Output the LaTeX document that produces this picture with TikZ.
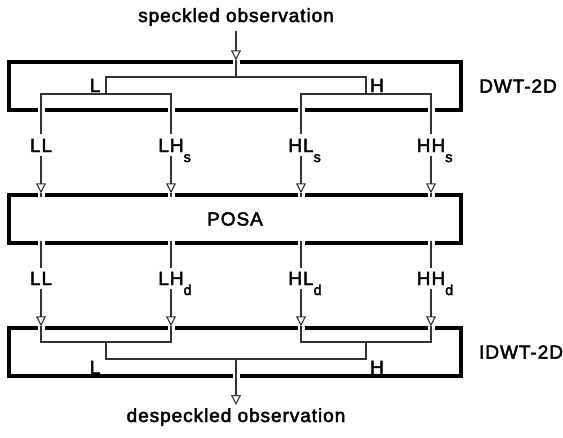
\documentclass[tikz,border=0pt]{standalone}
\usepackage{fontspec}
\setmainfont{Liberation Sans}[LetterSpace=5,FakeBold=2.5]
\usetikzlibrary{arrows.meta}
\newcommand{\lowsub}[1]{\raisebox{-10pt}{\fontsize{14.5}{16}\selectfont #1}}

\begin{document}
\begin{tikzpicture}[x=1pt,y=-1pt,font=\fontsize{19}{22}\selectfont,
		box/.style={draw,line width=3.5pt,minimum width=452pt,minimum height=48pt,inner sep=0pt},
		gap/.style={fill=white,minimum width=7pt,minimum height=10pt,inner sep=0pt},
		lbl/.style={inner sep=0pt,anchor=base},
		wire/.style={draw=black!80,line width=1.1pt},
		arr/.style={wire,-{Triangle[open,length=10pt,width=10pt]}}]
		\useasboundingbox (0,0) rectangle (563,437);
		\node[box] (dwt) at (235,86) {};
		\node[box] (posa) at (235,219) {POSA};
		\node[box] (idwt) at (235,352) {};
		\node[anchor=west,inner sep=0pt] (dwtname) at (479,86) {DWT-2D};
		\node[anchor=west,inner sep=0pt] (idwtname) at (479,352) {IDWT-2D};
		\node[lbl] (inobs) at (236,22) {speckled observation};
		\node[lbl] (outobs) at (236,422) {despeckled observation};
		\node[lbl] (ll1) at (41,152) {LL};
		\node[lbl] (lh1) at (171,152) {LH\rlap{\lowsub{s}}};
		\node[lbl] (hl1) at (301,152) {HL\rlap{\lowsub{s}}};
		\node[lbl] (hh1) at (431,152) {HH\rlap{\lowsub{s}}};
		\node[lbl] (ll2) at (41,285) {LL};
		\node[lbl] (lh2) at (171,285) {LH\rlap{\lowsub{d}}};
		\node[lbl] (hl2) at (301,285) {HL\rlap{\lowsub{d}}};
		\node[lbl] (hh2) at (431,285) {HH\rlap{\lowsub{d}}};
		\node[lbl] (lo1) at (95,92) {L};
		\node[lbl] (hi1) at (377,92) {H};
		\node[lbl] (lo2) at (95,374) {L};
		\node[lbl] (hi2) at (377,374) {H};
		\coordinate (dtop) at (236,77);
		\coordinate (dl) at (106,94);
		\coordinate (dh) at (366,94);
		\coordinate (il) at (106,342);
		\coordinate (ih) at (366,342);
		\coordinate (ibot) at (236,359);
		\node[gap] (gin) at (inobs |- dwt.north) {};
		\node[gap] (gout) at (outobs |- idwt.south) {};
		\foreach \a/\b in {ll1/ll2,lh1/lh2,hl1/hl2,hh1/hh2}{
			\node[gap] (g1\a) at (\a |- dwt.south) {};
			\node[gap] (g2\a) at (\a |- posa.north) {};
			\node[gap] (g3\a) at (\a |- posa.south) {};
			\node[gap] (g4\a) at (\a |- idwt.north) {};
		}
		\draw[arr] ([yshift=-5pt]inobs.south) -- (inobs |- dwt.north);
		\draw[wire] (inobs |- dwt.north) -- (dtop);
		\draw[wire] (dl) |- (dtop) -| (dh);
		\draw[wire] ([yshift=5pt]ll1.north) |- (dl) -| ([yshift=5pt]lh1.north);
		\draw[wire] ([yshift=5pt]hl1.north) |- (dh) -| ([yshift=5pt]hh1.north);
		\foreach \a/\b in {ll1/ll2,lh1/lh2,hl1/hl2,hh1/hh2}{
			\draw[arr] ([yshift=-4pt]\a.base) -- (\a |- posa.north);
			\draw[wire] (\a |- posa.north) -- ([yshift=-4pt]\a |- posa.north);
			\draw[wire] ([yshift=4pt]\b |- posa.south) -- ([yshift=4pt]\b.north);
			\draw[arr] ([yshift=-4pt]\b.base) -- (\b |- idwt.north);
		}
		\draw[wire] (ll2 |- idwt.north) |- (il) -| (lh2 |- idwt.north);
		\draw[wire] (hl2 |- idwt.north) |- (ih) -| (hh2 |- idwt.north);
		\draw[wire] (il) |- (ibot) -| (ih);
		\draw[arr] (ibot) -- ([yshift=3pt]outobs.north);
	\end{tikzpicture}
\end{document}
